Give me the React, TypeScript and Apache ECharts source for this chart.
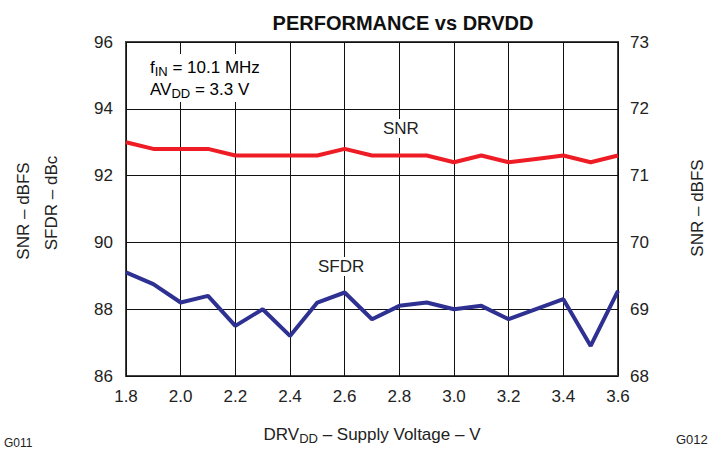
import React, { useEffect, useRef } from "react";
import * as echarts from "echarts";

const xValues = [1.8, 1.9, 2.0, 2.1, 2.2, 2.3, 2.4, 2.5, 2.6, 2.7, 2.8, 2.9, 3.0, 3.1, 3.2, 3.3, 3.4, 3.5, 3.6];
const snr = [93.0, 92.8, 92.8, 92.8, 92.6, 92.6, 92.6, 92.6, 92.8, 92.6, 92.6, 92.6, 92.4, 92.6, 92.4, 92.5, 92.6, 92.4, 92.6];
const sfdr = [89.1, 88.75, 88.2, 88.4, 87.5, 88.0, 87.2, 88.2, 88.5, 87.7, 88.1, 88.2, 88.0, 88.1, 87.7, 88.0, 88.3, 86.9, 88.55];
const leftTicks = { min: 86, max: 96, interval: 2 };
const rightTicks = { min: 68, max: 73, interval: 1 };
const xTicks = { min: 1.8, max: 3.6, interval: 0.2 };

const FONT = "Liberation Sans, Arial, sans-serif";
const FS = 17;

export default function App() {
  const ref = useRef<HTMLDivElement>(null);
  useEffect(() => {
    if (!ref.current) return;
    const chart = echarts.init(ref.current, undefined, { renderer: "svg" });
    const sub = { fontSize: 13, fontFamily: FONT, color: "#222", padding: [9, 0, 0, 0] };
    const main = { fontSize: FS, fontFamily: FONT, color: "#222" };
    chart.setOption({
      animation: false,
      backgroundColor: "#fff",
      title: {
        text: "PERFORMANCE vs DRVDD",
        left: 398,
        top: 8,
        textAlign: "center",
        textStyle: { fontSize: 20, fontWeight: "bold", fontFamily: FONT, color: "#111" },
      },
      grid: {
        left: 126, right: 105, top: 42, bottom: 73,
        outerBoundsMode: "none",
        containLabel: false,
        show: true, borderColor: "#444", borderWidth: 2, backgroundColor: "transparent",
      },
      xAxis: {
        type: "value",
        min: xTicks.min,
        max: xTicks.max,
        interval: xTicks.interval,
        axisLine: { show: false },
        axisTick: { show: false },
        axisLabel: { fontSize: FS, fontFamily: FONT, color: "#222", margin: 12, formatter: (v: number) => v.toFixed(1) },
        splitLine: { show: true, lineStyle: { color: "#111", width: 1 } },
        name: "{a|DRV}{s|DD}{a| – Supply Voltage – V}",
        nameLocation: "middle",
        nameGap: 47,
        nameTextStyle: { rich: { a: main, s: sub } },
      },
      yAxis: [
        {
          type: "value",
          min: leftTicks.min,
          max: leftTicks.max,
          interval: leftTicks.interval,
          axisLine: { show: false },
          axisTick: { show: false },
          axisLabel: { fontSize: FS, fontFamily: FONT, color: "#222", margin: 13 },
          splitLine: { show: true, lineStyle: { color: "#111", width: 1 } },
        },
        {
          type: "value",
          min: rightTicks.min,
          max: rightTicks.max,
          interval: rightTicks.interval,
          position: "right",
          axisLine: { show: false },
          axisTick: { show: false },
          axisLabel: { fontSize: FS, fontFamily: FONT, color: "#222", margin: 12 },
          splitLine: { show: false },
        },
      ],
      series: [
        {
          type: "line",
          name: "SNR",
          data: xValues.map((x, i) => [x, snr[i]]),
          symbol: "none",
          lineStyle: { color: "#EE1C25", width: 4 },
          z: 3,
        },
        {
          type: "line",
          name: "SFDR",
          data: xValues.map((x, i) => [x, sfdr[i]]),
          symbol: "none",
          lineStyle: { color: "#2E3192", width: 4 },
          z: 3,
        },
      ],
      graphic: [
        {
          type: "text",
          rotation: Math.PI / 2,
          x: 23,
          y: 211,
          style: { text: "SNR – dBFS", fontSize: FS, fontFamily: FONT, fill: "#222", align: "center", verticalAlign: "middle" },
        },
        {
          type: "text",
          rotation: Math.PI / 2,
          x: 51,
          y: 203,
          style: { text: "SFDR – dBc", fontSize: FS, fontFamily: FONT, fill: "#222", align: "center", verticalAlign: "middle" },
        },
        {
          type: "text",
          rotation: Math.PI / 2,
          x: 697,
          y: 208,
          style: { text: "SNR – dBFS", fontSize: FS, fontFamily: FONT, fill: "#222", align: "center", verticalAlign: "middle" },
        },
        {
          type: "text",
          x: 381,
          y: 119,
          z: 2,
          style: { text: "SNR", fontSize: FS, fontFamily: FONT, fill: "#222", backgroundColor: "#fff", padding: [1, 2] },
        },
        {
          type: "text",
          x: 316,
          y: 257,
          z: 2,
          style: { text: "SFDR", fontSize: FS, fontFamily: FONT, fill: "#222", backgroundColor: "#fff", padding: [1, 2] },
        },
        {
          type: "text",
          x: 146,
          y: 54,
          z: 2,
          style: {
            text: "{a|f}{s|IN}{a| = 10.1 MHz}\n{a|AV}{s|DD}{a| = 3.3 V}",
            backgroundColor: "#fff",
            padding: [2, 4, 2, 4],
            rich: { a: { ...main, lineHeight: 22 }, s: { ...sub, lineHeight: 22 } },
          },
        },
        {
          type: "text",
          x: 4,
          y: 437,
          style: { text: "G011", fontSize: 12, fontFamily: FONT, fill: "#222" },
        },
        {
          type: "text",
          x: 676,
          y: 433,
          style: { text: "G012", fontSize: 13, fontFamily: FONT, fill: "#222" },
        },
      ],
    });
    return () => chart.dispose();
  }, []);
  return <div ref={ref} style={{ width: 723, height: 449, position: "absolute", left: 0, top: 0 }} />;
}
